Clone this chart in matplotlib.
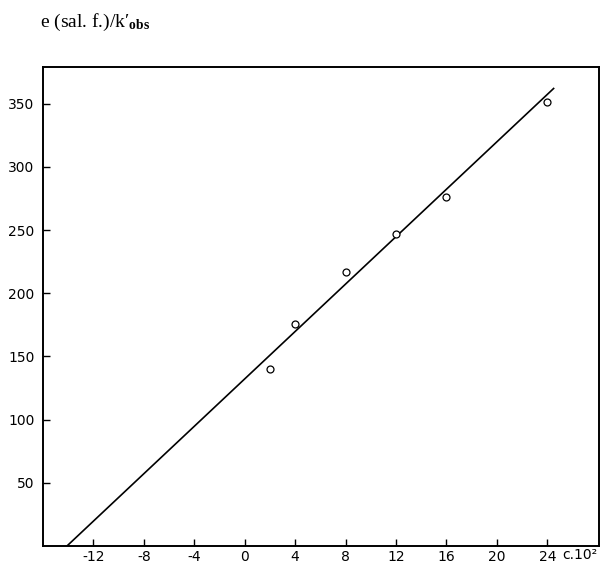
import numpy as np
import matplotlib
matplotlib.use("Agg")
import matplotlib.pyplot as plt

# measured points (c.10^2 vs e(sal. f.)/k'obs)
conc = [2, 4, 8, 12, 16, 24]
ratio = [140, 176, 217, 247, 276, 351]

# fitted straight line, as drawn
line_x = [-14.1, 24.5]
line_y = [0, 362]

xticks = [-12, -8, -4, 0, 4, 8, 12, 16, 20, 24]
yticks = [50, 100, 150, 200, 250, 300, 350]

plt.rcParams["font.family"] = ["DejaVu Sans"]
plt.rcParams["axes.unicode_minus"] = False
plt.rcParams["mathtext.fontset"] = "custom"
plt.rcParams["mathtext.rm"] = "Liberation Serif"
plt.rcParams["mathtext.it"] = "Liberation Serif:italic"
plt.rcParams["mathtext.bf"] = "Liberation Serif:bold"

fig = plt.figure(figsize=(6.06, 5.65), dpi=100)
ax = fig.add_axes([43 / 606, 1 - 546 / 565, (599 - 43) / 606, (546 - 67) / 565])

ax.plot(line_x, line_y, color="black", lw=1.2)
ax.plot(conc, ratio, "o", mfc="white", mec="black", ms=5, mew=0.9)

ax.set_xlim(-16, 28.1)
ax.set_ylim(0, 379)
ax.set_xticks(xticks)
ax.set_yticks(yticks)
ax.tick_params(direction="in", length=5, width=1, labelsize=10, color="black")
ax.tick_params(axis="x", pad=3)
ax.tick_params(axis="y", pad=6)
for s in ax.spines.values():
    s.set_linewidth(1.4)

ax.text(26.6, -0.005, "c.10\u00b2", transform=ax.get_xaxis_transform(),
        ha="center", va="top", fontsize=10)

fig.text(40 / 606, 1 - 22 / 565, "e (sal. f.)/k\u2032$_{\\mathbf{obs}}$",
         family=["Liberation Serif", "DejaVu Serif"],
         ha="left", va="center", fontsize=14)

fig.savefig("out.png", dpi=100)
